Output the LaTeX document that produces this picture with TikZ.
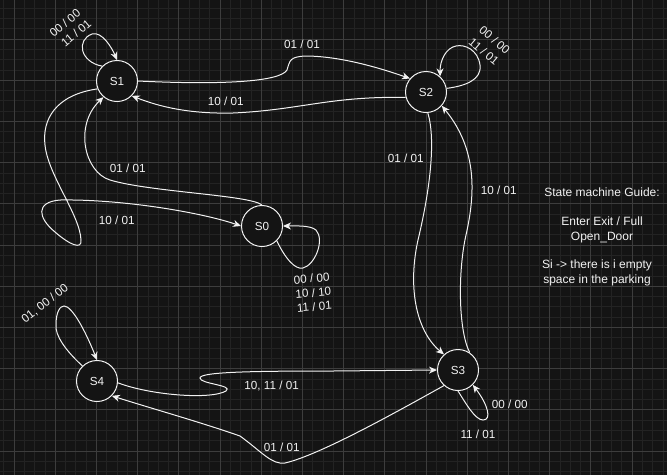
\documentclass[tikz,border=0pt]{standalone}
\usepackage{fontspec}
\setmainfont{Liberation Sans}
\usetikzlibrary{arrows.meta}
\definecolor{canvas}{HTML}{141414}
\definecolor{gridminor}{HTML}{232323}
\definecolor{gridmajor}{HTML}{3D3D3D}
\definecolor{ink}{HTML}{F2F2F2}
\begin{document}
\begin{tikzpicture}[x=1pt, y=-1pt,
    state/.style={circle, draw=ink, line width=1pt, fill=canvas, minimum size=41pt,
      inner sep=0pt, text=ink, font=\fontsize{11.7}{14}\selectfont},
    edge/.style={draw=ink, line width=1pt, -{Stealth[length=8pt,width=7pt,inset=2.5pt]}},
    lbl/.style={text=ink, inner sep=0pt, align=center, font=\fontsize{11.7}{14.6}\selectfont},
    minorline/.style={draw=gridminor, line width=0.8pt},
    majorline/.style={draw=gridmajor, line width=1pt}]

    % Canvas and grid
    \useasboundingbox (0,0) rectangle (667,475);
    \clip (0,0) rectangle (667,475);
    \fill[canvas] (0,0) rectangle (667,475);
    \foreach \i in {-1,...,64} \draw[minorline] ({14+10.3*\i},0) -- ({14+10.3*\i},475);
    \foreach \i in {-4,...,43} \draw[minorline] (0,{39+10.3*\i}) -- (667,{39+10.3*\i});
    \foreach \i in {0,...,16} \draw[majorline] ({14+41.2*\i},0) -- ({14+41.2*\i},475);
    \foreach \i in {-1,...,11} \draw[majorline] (0,{39+41.2*\i}) -- (667,{39+41.2*\i});

    % States
    \node[state] (s1) at (117,81) {S1};
    \node[state] (s2) at (426,92) {S2};
    \node[state] (s0) at (262,226) {S0};
    \node[state] (s3) at (458,370) {S3};
    \node[state] (s4) at (97,381) {S4};

    % Self loops
    \draw[edge] (s1.135) .. controls (80,62) and (76,40) .. (92,34)
      .. controls (102,31) and (112,48) .. (s1.north);
    \draw[edge] (s2.10) .. controls (465,86) and (482,80) .. (480,65)
      .. controls (478,50) and (465,44) .. (456,46)
      .. controls (446,48) and (440,60) .. (s2.48);
    \draw[edge] (s0.-45) .. controls (285,258) and (295,270) .. (303,268)
      .. controls (315,265) and (325,240) .. (316,230)
      .. controls (310,225) and (295,226) .. (s0.east);
    \draw[edge] (s3.south) .. controls (465,402) and (475,420) .. (483,420)
      .. controls (492,420) and (488,405) .. (s3.-45);
    \draw[edge] (s4.134) .. controls (65,350) and (55,335) .. (56,325)
      .. controls (56,312) and (60,306) .. (64,306)
      .. controls (72,306) and (85,330) .. (s4.north);

    % Transitions between states
    \draw[edge] (s1.east) .. controls (220,85) and (280,82) .. (287,70)
      .. controls (290,60) and (290,57) .. (305,56)
      .. controls (340,56) and (380,68) .. (s2.140);
    \draw[edge] (s2.195) .. controls (330,96) and (300,110) .. (233,113)
      .. controls (190,114) and (160,107) .. (s1.-45);
    \draw[edge] (s0.north) .. controls (250,195) and (150,192) .. (110,180)
      .. controls (84,172) and (74,125) .. (s1.-130);
    \draw[edge] (s1.202) .. controls (55,95) and (42,120) .. (45,145)
      .. controls (48,175) and (80,215) .. (81,240)
      .. controls (82,250) and (70,245) .. (55,232)
      .. controls (38,218) and (35,202) .. (60,200)
      .. controls (120,199) and (200,212) .. (s0.west);
    \draw[edge] (s2.-85) .. controls (436,140) and (430,190) .. (418,240)
      .. controls (408,285) and (415,330) .. (s3.132);
    \draw[edge] (s3.56) .. controls (458,330) and (458,270) .. (466,235)
      .. controls (475,195) and (478,150) .. (s2.-41);
    \draw[edge] (s3.228) .. controls (400,410) and (320,455) .. (285,463)
      .. controls (272,465) and (262,452) .. (240,436)
      .. controls (200,422) and (150,408) .. (s4.-45);
    \draw[edge] (s4.-5) .. controls (150,395) and (210,400) .. (226,391)
      .. controls (234,385) and (200,384) .. (200,378)
      .. controls (200,372) and (250,371) .. (333,371) -- (s3.west);

    % Labels of the loops
    \node[lbl, rotate=40] (l11a) at (65,23) {00 / 00};
    \node[lbl, rotate=40] (l11b) at (76,33) {11 / 01};
    \node[lbl, rotate=-40] (l22a) at (494.7,40) {00 / 00};
    \node[lbl, rotate=-40] (l22b) at (484,51.7) {11 / 01};
    \node[lbl, rotate=5] (l00a) at (311.7,278.3) {00 / 00};
    \node[lbl, rotate=5] (l00b) at (313.3,292.7) {10 / 10};
    \node[lbl, rotate=5] (l00c) at (314.3,306.7) {11 / 01};
    \node[lbl, rotate=38] (l44) at (45,304) {01, 00 / 00};
    \node[lbl] (l33a) at (509.7,404.3) {00 / 00};
    \node[lbl] (l33b) at (478,434.3) {11 / 01};

    % Labels of the transitions
    \node[lbl] (l12) at (302,44) {01 / 01};
    \node[lbl] (l21) at (225.7,101) {10 / 01};
    \node[lbl] (l01) at (127.7,168.3) {01 / 01};
    \node[lbl] (l10) at (116.7,220.7) {10 / 01};
    \node[lbl] (l23) at (405.7,158.3) {01 / 01};
    \node[lbl] (l32) at (498.7,190) {10 / 01};
    \node[lbl] (l34) at (281.7,447.3) {01 / 01};
    \node[lbl] (l43) at (271.7,385.7) {10, 11 / 01};

    % Guide
    \node[lbl, font=\fontsize{12}{14.6}\selectfont] (guide) at (602,215)
      {State machine Guide:\\[14.6pt]Enter Exit / Full\\Open\_Door};
    \node[lbl, font=\fontsize{12}{14.6}\selectfont] (note) at (597,273)
      {Si -> there is i empty\\space in the parking};
\end{tikzpicture}
\end{document}
